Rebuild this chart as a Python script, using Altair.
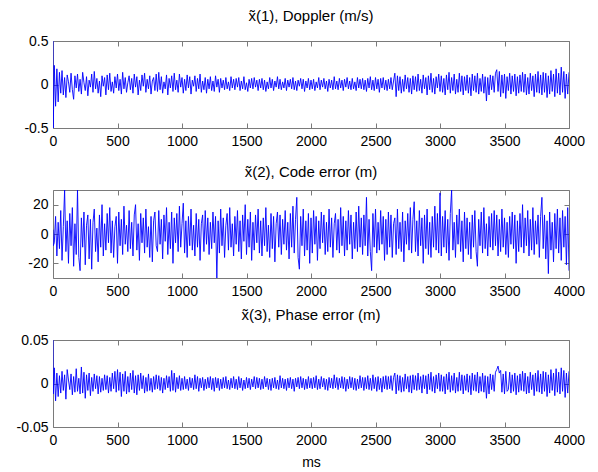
import altair as alt
import pandas as pd

# sample times (ms)
times = [0, 2] + [10 * i for i in range(1, 401)]

# x~(1) Doppler error (m/s)
doppler = [0.5, -0.5,
    0.22, -0.25, 0.18, -0.2, 0.14, -0.1, 0.16, -0.12, 0.08, -0.15, 0.11, 0.03, -0.09, 0.13, -0.06, -0.17, 0.1, -0.04, 0.12, -0.08,
    0.06, -0.11, 0.14, 0.02, -0.07, 0.09, -0.13, 0.05, -0.03, 0.12, -0.09, 0.15, -0.05, 0.07, -0.1, 0.04, -0.14, 0.1, -0.02, 0.08,
    -0.12, 0.11, -0.06, 0.13, -0.08, 0.03, -0.1, 0.09, -0.04, 0.12, -0.07, 0.06, -0.11, 0.14, -0.05, 0.08, -0.09, 0.02, 0.1, -0.06,
    0.07, -0.1, 0.12, -0.03, 0.09, -0.12, 0.05, -0.07, 0.11, -0.02, 0.13, -0.09, 0.06, -0.05, 0.1, -0.11, 0.04, 0.08, -0.07, 0.12,
    -0.08, 0.14, -0.06, 0.09, -0.1, 0.03, -0.05, 0.11, -0.12, 0.07, -0.04, 0.1, -0.08, 0.13, -0.06, 0.05, -0.09, 0.12, -0.03, 0.08,
    -0.1, 0.06, -0.07, 0.11, -0.04, 0.09, -0.11, 0.05, -0.02, 0.1, -0.08, 0.07, -0.05, 0.12, -0.09, 0.04, -0.06, 0.08, -0.1, 0.06,
    -0.05, 0.09, -0.07, 0.04, -0.08, 0.1, -0.03, 0.06, -0.09, 0.07, -0.04, 0.05, -0.06, 0.08, -0.05, 0.03, -0.07, 0.09, -0.04, 0.06,
    -0.06, 0.07, -0.03, 0.08, -0.07, 0.04, -0.05, 0.09, -0.06, 0.02, -0.08, 0.06, -0.04, 0.07, -0.05, 0.08, -0.03, 0.05, -0.07, 0.06,
    -0.04, 0.07, -0.06, 0.05, -0.08, 0.03, -0.05, 0.08, -0.04, 0.06, -0.07, 0.04, -0.03, 0.09, -0.05, 0.06, -0.06, 0.03, -0.04, 0.07,
    -0.07, 0.05, -0.03, 0.06, -0.05, 0.08, -0.06, 0.04, -0.07, 0.05, -0.02, 0.07, -0.05, 0.06, -0.08, 0.04, -0.04, 0.07, -0.06, 0.05,
    -0.05, 0.06, -0.07, 0.03, -0.04, 0.08, -0.06, 0.05, -0.03, 0.07, -0.05, 0.04, -0.08, 0.06, -0.04, 0.05, -0.06, 0.09, -0.05, 0.04,
    -0.06, 0.07, -0.04, 0.05, -0.07, 0.06, -0.03, 0.08, -0.05, 0.04, -0.06, 0.07, -0.05, 0.03, -0.07, 0.08, -0.04, 0.06, -0.05, 0.07,
    -0.06, 0.05, -0.08, 0.07, -0.04, 0.09, -0.06, 0.05, -0.07, 0.08, -0.05, 0.06, -0.09, 0.07, -0.04, 0.08, -0.06, 0.05, -0.07, 0.06,
    -0.05, 0.08, -0.06, 0.04, 0.13, -0.14, 0.1, -0.07, 0.09, -0.1, 0.06, -0.08, 0.11, -0.05, 0.08, -0.09, 0.07, -0.11, 0.1, -0.06,
    0.09, -0.08, 0.12, -0.07, 0.06, -0.1, 0.11, -0.05, 0.08, -0.12, 0.1, -0.06, 0.13, -0.09, 0.07, -0.11, 0.09, -0.04, 0.12, -0.08,
    0.1, -0.09, 0.07, -0.12, 0.11, -0.06, 0.14, -0.1, 0.08, -0.07, 0.12, -0.11, 0.06, -0.09, 0.13, -0.08, 0.1, -0.12, 0.09, -0.07,
    0.11, -0.1, 0.08, -0.13, 0.12, -0.07, 0.1, -0.09, 0.13, -0.11, 0.07, -0.08, 0.12, -0.1, 0.09, -0.19, 0.08, -0.12, 0.11, -0.06,
    0.1, -0.09, 0.13, 0.17, -0.08, 0.15, -0.14, 0.11, -0.1, 0.12, -0.16, 0.09, -0.07, 0.13, -0.11, 0.1, -0.08, 0.12, -0.13, 0.09,
    -0.1, 0.11, -0.08, 0.14, -0.09, 0.12, -0.12, 0.08, -0.11, 0.13, -0.07, 0.1, -0.14, 0.12, -0.09, 0.15, -0.1, 0.11, -0.12, 0.14,
    -0.09, 0.13, -0.15, 0.1, -0.11, 0.16, -0.08, 0.12, -0.14, 0.18, -0.1, 0.13, -0.12, 0.2, -0.09, 0.15, -0.16, 0.12, -0.11, 0.14]

# x~(2) Code error (m)
code_err = [3, -8,
    -6, 12, -15, 8, -10, 16, -18, 5, 30, -12, 9, -20, 14, -8, 18, -22, 7, -14, 30, -16,
    -25, 11, -9, 15, -21, 6, 13, -17, 10, -24, 8, 17, -12, 4, -19, 13, -9, 20, -15, 7,
    -11, 14, -6, 18, -13, 9, -16, 5, 12, -20, 15, -8, 10, -14, 19, -7, 6, -12, 16, -10,
    8, -15, 13, 20, -11, 7, -18, 14, -6, 11, -13, 17, -9, 5, -16, 12, -19, 9, 15, -8,
    -12, 16, -7, 10, -17, 13, -5, 18, -14, 8, -10, 15, -20, 11, -6, 14, -12, 19, -9, 7,
    21, -13, 9, -16, 12, -8, 17, -11, 6, -15, 14, -9, 10, -18, 7, 13, -12, 16, -7, 11,
    -14, 8, -10, 15, -6, 12, -30, 9, -13, 17, -8, 11, -16, 6, 14, -11, 18, -9, 7, -15,
    12, -7, 16, -12, 9, -17, 13, -5, 20, -14, 10, -9, 15, -18, 8, -11, 13, -6, 17, -13,
    9, -15, 11, -8, 18, -12, 6, -16, 14, -10, 12, -19, 7, 15, -9, 13, -14, 10, -7, 16,
    -11, 8, -17, 14, -9, 19, -13, 10, 25, -16, -24, 12, -8, 17, -15, 9, -11, 14, -20, 11,
    -13, 16, -7, 12, -18, 9, -10, 15, -6, 13, -14, 8, -12, 17, -9, 11, -16, 7, 14, -11,
    10, -13, 18, -8, 12, -15, 9, -11, 16, -7, 13, -17, 8, -10, 15, -12, 19, -9, 11, -14,
    13, -8, 25, -15, 10, -12, -25, 14, -9, 17, -13, 8, -11, 16, -7, 12, -18, 10, -14, 15,
    -9, 13, -16, 7, 11, -14, 17, -10, 8, -12, 15, -19, 9, -7, 14, -11, 18, -13, 10, 22,
    -12, 9, -15, 16, -8, 11, -20, 13, -10, 17, -14, 8, -16, 12, -9, 19, -11, 14, -13, 28,
    -15, 12, -9, 16, -13, 10, -18, 14, 30, -11, 8, -16, 13, -7, 17, -12, 9, -19, 15, -10,
    11, -14, 8, -17, 13, -9, 16, -12, -22, 10, -8, 15, -13, 18, -10, 7, -15, 12, -9, 14,
    -11, 16, -8, 13, -15, 10, -12, 17, -9, 11, -14, 8, -16, 12, -7, 15, -10, 13, -20, 9,
    -12, 14, -9, 20, -13, 11, -8, 16, -15, 10, -11, 18, -14, 9, -7, 13, -16, 12, 25, -10,
    13, -17, 9, -27, 15, -11, 8, -19, 14, -10, 17, -13, 11, -18, 16, -9, 12, -21, 18, -25]

# x~(3) Phase error (m)
phase_err = [0.05, -0.012,
    0.018, -0.02, 0.012, -0.015, 0.009, -0.011, 0.014, -0.008, 0.01, -0.018, 0.016, 0.004, -0.007, 0.011, -0.013, 0.008, -0.01, 0.017, -0.009, 0.006,
    -0.012, 0.019, -0.011, 0.013, -0.017, 0.01, -0.008, 0.012, -0.014, 0.007, -0.009, 0.011, -0.006, 0.009, -0.012, 0.008, -0.01, 0.006, -0.008, 0.01,
    -0.007, 0.009, -0.011, 0.007, -0.009, 0.012, -0.006, 0.014, -0.01, 0.016, -0.008, 0.013, -0.015, 0.011, -0.009, 0.014, -0.012, 0.008, -0.01, 0.012,
    -0.007, 0.015, -0.011, 0.009, -0.013, 0.01, -0.008, 0.012, -0.006, 0.009, -0.011, 0.007, -0.009, 0.011, -0.008, 0.006, -0.01, 0.008, -0.007, 0.01,
    -0.006, 0.009, -0.008, 0.007, -0.011, 0.006, -0.007, 0.009, -0.005, 0.008, -0.009, 0.015, -0.008, 0.012, -0.01, 0.007, -0.006, 0.009, -0.008, 0.006,
    -0.007, 0.008, -0.006, 0.005, -0.008, 0.007, -0.005, 0.006, -0.007, 0.01, -0.006, 0.008, -0.009, 0.006, -0.005, 0.007, -0.008, 0.005, -0.006, 0.007,
    -0.005, 0.008, -0.007, 0.006, -0.009, 0.007, -0.005, 0.006, -0.008, 0.005, -0.006, 0.007, -0.005, 0.008, -0.006, 0.004, -0.007, 0.006, -0.005, 0.008,
    -0.006, 0.005, -0.007, 0.008, -0.005, 0.006, -0.008, 0.004, -0.006, 0.007, -0.005, 0.006, -0.007, 0.005, -0.004, 0.008, -0.006, 0.007, -0.005, 0.006,
    -0.007, 0.005, -0.006, 0.008, -0.004, 0.006, -0.007, 0.005, -0.008, 0.006, -0.005, 0.007, -0.006, 0.004, -0.007, 0.009, -0.005, 0.006, -0.006, 0.005,
    -0.008, 0.006, -0.005, 0.007, -0.006, 0.005, -0.009, 0.006, -0.004, 0.007, -0.006, 0.008, -0.005, 0.006, -0.007, 0.005, -0.006, 0.008, -0.005, 0.006,
    -0.006, 0.007, -0.005, 0.009, -0.007, 0.005, -0.006, 0.008, -0.004, 0.006, -0.007, 0.005, -0.008, 0.007, -0.005, 0.006, -0.006, 0.01, -0.005, 0.007,
    -0.007, 0.006, -0.005, 0.008, -0.006, 0.007, -0.009, 0.005, -0.006, 0.008, -0.005, 0.007, -0.007, 0.006, -0.008, 0.005, -0.006, 0.009, -0.005, 0.007,
    -0.008, 0.007, -0.006, 0.009, -0.007, 0.006, -0.008, 0.01, -0.006, 0.007, -0.009, 0.008, -0.007, 0.006, -0.01, 0.008, -0.006, 0.009, -0.007, 0.008,
    -0.006, 0.009, -0.008, 0.007, 0.012, -0.012, 0.01, -0.008, 0.009, -0.01, 0.007, -0.009, 0.011, -0.006, 0.008, -0.01, 0.009, -0.011, 0.01, -0.007,
    0.009, -0.008, 0.012, -0.007, 0.008, -0.011, 0.01, -0.006, 0.009, -0.012, 0.011, -0.007, 0.013, -0.009, 0.008, -0.011, 0.01, -0.006, 0.012, -0.009,
    0.01, -0.009, 0.008, -0.012, 0.011, -0.007, 0.013, -0.01, 0.009, -0.008, 0.012, -0.011, 0.007, -0.009, 0.013, -0.008, 0.01, -0.012, 0.009, -0.008,
    0.011, -0.01, 0.009, -0.013, 0.012, -0.008, 0.01, -0.009, 0.013, -0.011, 0.008, -0.009, 0.012, -0.01, 0.009, -0.017, 0.008, -0.012, 0.011, -0.007,
    0.01, -0.009, 0.013, 0.016, 0.02, 0.012, 0.015, -0.01, 0.011, -0.012, 0.014, -0.009, -0.007, 0.013, -0.011, 0.01, -0.009, 0.012, -0.013, 0.009,
    -0.01, 0.011, -0.008, 0.014, -0.009, 0.012, -0.012, 0.008, -0.011, 0.013, -0.007, 0.01, -0.014, 0.012, -0.009, 0.015, -0.01, 0.011, -0.012, 0.014,
    -0.009, 0.013, -0.015, 0.01, -0.011, 0.016, -0.008, 0.012, -0.014, 0.017, -0.01, 0.013, -0.012, 0.018, -0.009, 0.015, -0.016, 0.012, -0.011, 0.014]

x_ticks = [0, 500, 1000, 1500, 2000, 2500, 3000, 3500, 4000]

df = pd.DataFrame({"t": times, "d": doppler, "c": code_err, "p": phase_err})

FONT = "Liberation Sans"
BLUE = "#0000ff"
FRAME = "#7a7a7a"
W = 516


def panel(field, domain, yticks, title, height, x_title=None):
    xs = alt.Scale(domain=[0, 4000], nice=False, zero=False)
    ys = alt.Scale(domain=domain, nice=False, zero=False)
    common = dict(grid=False, domain=False, tickColor=FRAME, tickWidth=1,
                  tickSize=5, offset=-5, labelFlush=False)
    ax_bottom = alt.Axis(orient="bottom", values=x_ticks,
                         labelExpr="toString(datum.value)", labelPadding=6,
                         titlePadding=8, **common)
    ax_left = alt.Axis(orient="left", values=yticks,
                       labelExpr="toString(datum.value)", labelPadding=5,
                       **common)
    ax_top = alt.Axis(orient="top", values=x_ticks, labels=False, **common)
    ax_right = alt.Axis(orient="right", values=yticks, labels=False, **common)

    xkw = {"title": x_title} if x_title else {"title": None}
    line = alt.Chart(df).mark_line(color=BLUE, strokeWidth=0.9, clip=True).encode(
        x=alt.X("t:Q", scale=xs, axis=ax_bottom, **xkw),
        y=alt.Y(f"{field}:Q", scale=ys, axis=ax_left, title=None),
    )
    ghost = alt.Chart(df).mark_line(strokeOpacity=0).encode(
        x=alt.X("t:Q", scale=xs, axis=ax_top, title=None),
        y=alt.Y(f"{field}:Q", scale=ys, axis=ax_right, title=None),
    )
    return alt.layer(line, ghost).resolve_axis(x="independent", y="independent").properties(
        width=W, height=height,
        title=alt.TitleParams(text=title, font=FONT, fontSize=15,
                              fontWeight="normal", color="black",
                              anchor="middle", offset=10),
    )


p1 = panel("d", [-0.5, 0.5], [-0.5, 0, 0.5], "x\u0303(1), Doppler (m/s)", 87)
p2 = panel("c", [-30, 30], [-20, 0, 20], "x\u0303(2), Code error (m)", 88)
p3 = panel("p", [-0.05, 0.05], [-0.05, 0, 0.05], "x\u0303(3), Phase error (m)", 87, x_title="ms")

chart = alt.vconcat(p1, p2, p3, spacing=62, bounds="flush").properties(
    padding={"left": 15, "top": 8, "right": 5, "bottom": 0},
    background="white",
).configure_view(stroke=FRAME, strokeWidth=1).configure_axis(
    labelFont=FONT, labelFontSize=14, labelColor="black",
    titleFont=FONT, titleFontSize=14, titleFontWeight="normal", titleColor="black",
)

chart.save("out.html", embed_options={"renderer": "svg", "actions": False})
